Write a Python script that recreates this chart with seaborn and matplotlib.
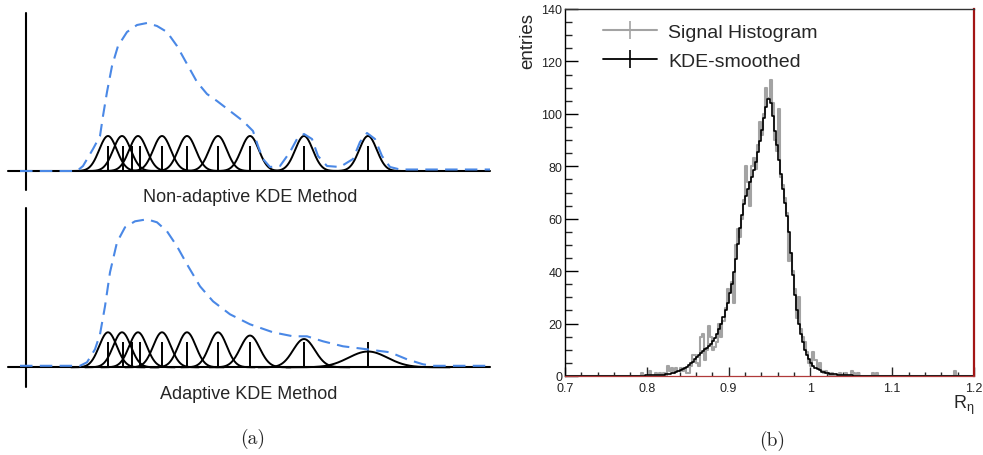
import numpy as np
import pandas as pd
import matplotlib
matplotlib.use("Agg")
import matplotlib.pyplot as plt
from matplotlib.lines import Line2D
from matplotlib.ticker import MultipleLocator, FuncFormatter
import seaborn as sns

sns.set_theme(style="ticks")
plt.rcParams["font.family"] = ["Liberation Sans", "DejaVu Sans"]
plt.rcParams["mathtext.fontset"] = "custom"
plt.rcParams["mathtext.rm"] = "Liberation Sans"
plt.rcParams["mathtext.it"] = "Liberation Sans:italic"

# ---------------- data: panel (a) illustration ----------------
sample_points = [108, 123, 132, 140, 162, 187, 218, 250, 304, 368]
kernel_centers = [108, 122, 138, 162, 187, 218, 250, 304, 368]
fixed_bandwidth = [8.8] * 9
adaptive_bandwidth = [8.8, 8.8, 8.8, 8.8, 8.8, 8.8, 9.7, 10.9, 19.5]
kernel_peak = 35.0        # peak height of a kernel with bandwidth 8.8
marker_height = 25.0

true_x_top = [20, 77, 83, 93, 100, 103, 107, 112, 118, 127, 137, 147, 157, 167, 177, 187,
              197, 207, 217, 230, 243, 253, 258, 263, 270, 280, 290, 297, 304, 312, 318,
              327, 340, 353, 360, 367, 375, 382, 390, 400, 490]
true_h_top = [0, 0, 5, 22, 35, 55, 79, 105, 125, 139, 146, 148, 145, 139, 125, 107,
              89, 77, 70, 60, 50, 40, 25, 12, 4, 5, 19, 32, 37, 32, 15,
              5, 4, 12, 29, 38, 32, 15, 4, 1.5, 1.5]

true_x_bot = [20, 80, 87, 95, 100, 105, 110, 117, 125, 135, 147, 157, 167, 177, 187, 200,
              213, 230, 250, 273, 293, 307, 323, 343, 367, 390, 407, 423, 433, 490]
true_h_bot = [1.5, 1.5, 5, 18, 33, 61, 95, 125, 140, 146, 148, 145, 136, 121, 103, 81,
              66, 53, 43, 35, 31, 31, 26, 21, 18, 15, 8, 3, 1.5, 1.5]

# ---------------- data: panel (b) histogram ----------------
hist_lo, hist_hi, n_bins = 0.7, 1.2, 200
region_start = 0.79
signal_counts = [0, 1, 0, 0, 0, 2, 0, 0, 1, 0, 1, 0, 1, 0, 4, 2, 3, 1, 3, 2,
                 3, 2, 3, 1, 1, 4, 8, 8, 5, 4, 15, 16, 6, 10, 19, 15, 10, 11, 13, 20,
                 15, 21, 26, 33, 32, 36, 28, 50, 56, 53, 60, 67, 80, 74, 65, 80, 83, 79, 88, 97,
                 92, 100, 110, 106, 113, 104, 90, 86, 102, 76, 73, 68, 62, 44, 47, 40, 33, 22, 30, 18,
                 15, 13, 9, 5, 4, 9, 6, 3, 5, 2, 1, 2, 1, 0, 1, 0, 0, 0, 1, 0,
                 0, 1, 0, 0, 2, 1, 0, 1]
signal_extra_r = [1.0775, 1.0825, 1.1765]
signal_extra_n = [1, 1, 2]
kde_counts = [0.1, 0.1, 0.1, 0.2, 0.2, 0.2, 0.2, 0.3, 0.3, 0.3, 0.3, 0.4, 0.5, 0.6, 0.7, 0.8,
              1.0, 1.2, 1.5, 1.8, 2.1, 2.5, 3.0, 3.5, 4.1, 4.8, 5.5, 6.3, 7.1, 7.9, 8.7, 9.6,
              10.3, 10.8, 11.4, 12.2, 13.2, 14.4, 16.0, 17.8, 20.0, 22.5, 25.0, 28.0, 31.5, 35.0,
              39.5, 44.5, 50.5, 56.5, 61.5, 65.5, 68.5, 71.5, 74.0, 76.0, 78.5, 81.5, 85.5, 89.5,
              94.0, 98.5, 102.5, 105.5, 104.0, 99.0, 93.5, 88.0, 82.5, 77.0, 71.5, 66.0, 61.0,
              55.0, 47.0, 38.5, 31.0, 25.0, 20.0, 16.0, 12.8, 10.0, 8.0, 6.3, 5.0, 4.0, 3.2, 2.6,
              2.1, 1.7, 1.4, 1.2, 1.0, 0.9, 0.8, 0.7, 0.6, 0.5, 0.4, 0.4, 0.3, 0.3, 0.2, 0.2,
              0.2, 0.1, 0.1, 0.1]
legend_labels = ["Signal Histogram", "KDE-smoothed"]

# ---------------- figure ----------------
W, H = 983, 456
fig = plt.figure(figsize=(W / 100, H / 100), dpi=100)


def px_axes(l, t, r, b):
    return fig.add_axes([l / W, 1 - b / H, (r - l) / W, (b - t) / H])


BLUE = "#4a88e6"


def draw_panel(ax, bandwidths, tx, th, base_px, top_px, bot_px):
    span = bot_px - top_px
    ax.set_xlim(0, 492)
    ax.set_ylim(-(bot_px - base_px), base_px - top_px)
    ax.axis("off")
    ax.axhline(0, xmin=8 / 492, xmax=490 / 492, color="black", lw=1.5, zorder=1)
    ax.axvline(26, ymin=4 / span, ymax=1 - 4 / span, color="black", lw=1.5)
    for c, s in zip(kernel_centers, bandwidths):
        xs = np.linspace(c - 4.2 * s, c + 4.2 * s, 200)
        ys = kernel_peak * bandwidths[0] / s * np.exp(-0.5 * ((xs - c) / s) ** 2)
        sns.lineplot(x=xs, y=ys, color="black", lw=1.4, ax=ax, estimator=None,
                     sort=False, zorder=2)
    ax.vlines(sample_points, 0, marker_height, color="black", lw=1.4, zorder=2)
    sns.lineplot(x=tx, y=th, color=BLUE, lw=1.5, linestyle=(0, (6.0, 3.5)), ax=ax,
                 estimator=None, sort=False, zorder=3)


ax_top = px_axes(0, 10, 492, 195)
draw_panel(ax_top, fixed_bandwidth, true_x_top, true_h_top, 172, 10, 195)
ax_bot = px_axes(0, 205, 492, 392)
draw_panel(ax_bot, adaptive_bandwidth, true_x_bot, true_h_bot, 368.3, 205, 392)

fig.text(250 / W, 1 - 197 / H, "Non-adaptive KDE Method", ha="center", va="center", fontsize=13)
fig.text(249 / W, 1 - 395 / H, "Adaptive KDE Method", ha="center", va="center", fontsize=13)
fig.text(253 / W, 1 - 439 / H, "(a)", ha="center", va="center", fontsize=14, family="cmr10")
fig.text(772 / W, 1 - 441 / H, "(b)", ha="center", va="center", fontsize=14, family="cmr10")

# ---------------- panel (b) ----------------
edges = np.linspace(hist_lo, hist_hi, n_bins + 1)
centers = 0.5 * (edges[:-1] + edges[1:])
i0 = int(round((region_start - hist_lo) / (edges[1] - edges[0])))
sig_full = np.zeros(n_bins)
sig_full[i0:i0 + len(signal_counts)] = signal_counts
for r, n in zip(signal_extra_r, signal_extra_n):
    sig_full[np.searchsorted(edges, r) - 1] = n
kde_full = np.zeros(n_bins)
kde_full[i0:i0 + len(kde_counts)] = kde_counts
df = pd.DataFrame({"r": centers, "signal": sig_full, "kde": kde_full})

ax = px_axes(565, 10, 974, 377)
sns.histplot(data=df, x="r", weights="signal", bins=list(edges), element="step", fill=False,
             color="#a3a3a3", linewidth=1.5, ax=ax)
sns.histplot(data=df, x="r", weights="kde", bins=list(edges), element="step", fill=False,
             color="black", linewidth=1.2, ax=ax)
ax.set_xlim(hist_lo, hist_hi)
ax.set_ylim(0, 140)
ax.set_xlabel("")
ax.set_ylabel("")
ax.xaxis.set_major_locator(MultipleLocator(0.1))
ax.xaxis.set_minor_locator(MultipleLocator(0.02))
ax.yaxis.set_major_locator(MultipleLocator(20))
ax.yaxis.set_minor_locator(MultipleLocator(5))
ax.xaxis.set_major_formatter(FuncFormatter(lambda v, p: f"{v:g}"))
ax.tick_params(axis="y", which="major", direction="in", length=9.5, width=1.0,
               labelsize=9, pad=2, colors="black", labelcolor="#222222")
ax.tick_params(axis="y", which="minor", direction="in", length=4.8, width=1.0)
ax.tick_params(axis="x", which="major", direction="in", length=6.7, width=1.0,
               labelsize=9, pad=4.0, labelcolor="#222222")
ax.tick_params(axis="x", which="minor", direction="in", length=3.2, width=1.0)
ax.spines["left"].set_color("black")
ax.spines["left"].set_linewidth(1.0)
ax.spines["top"].set_color("#333333")
ax.spines["top"].set_linewidth(1.0)
ax.spines["right"].set_color("#a31515")
ax.spines["right"].set_linewidth(1.6)
ax.spines["bottom"].set_color("#b03a3a")
ax.spines["bottom"].set_linewidth(0.9)

handles = [Line2D([0], [0], color="#a3a3a3", lw=1.5, marker="|", markersize=13, mew=1.2),
           Line2D([0], [0], color="black", lw=1.3, marker="|", markersize=13, mew=1.2)]
ax.legend(handles, legend_labels, loc="upper left", bbox_to_anchor=(0.093, 0.962),
          frameon=False, fontsize=14, handlelength=2.8, handletextpad=0.55,
          labelspacing=0.6, borderpad=0, borderaxespad=0)

fig.text(528 / W, 1 - 13 / H, "entries", rotation=90, ha="center", va="top", fontsize=13.5)
fig.text(974 / W, 1 - 409 / H, r"R$_{\mathregular{\eta}}$", ha="right", va="baseline", fontsize=13)

fig.savefig("out.png", dpi=100)
